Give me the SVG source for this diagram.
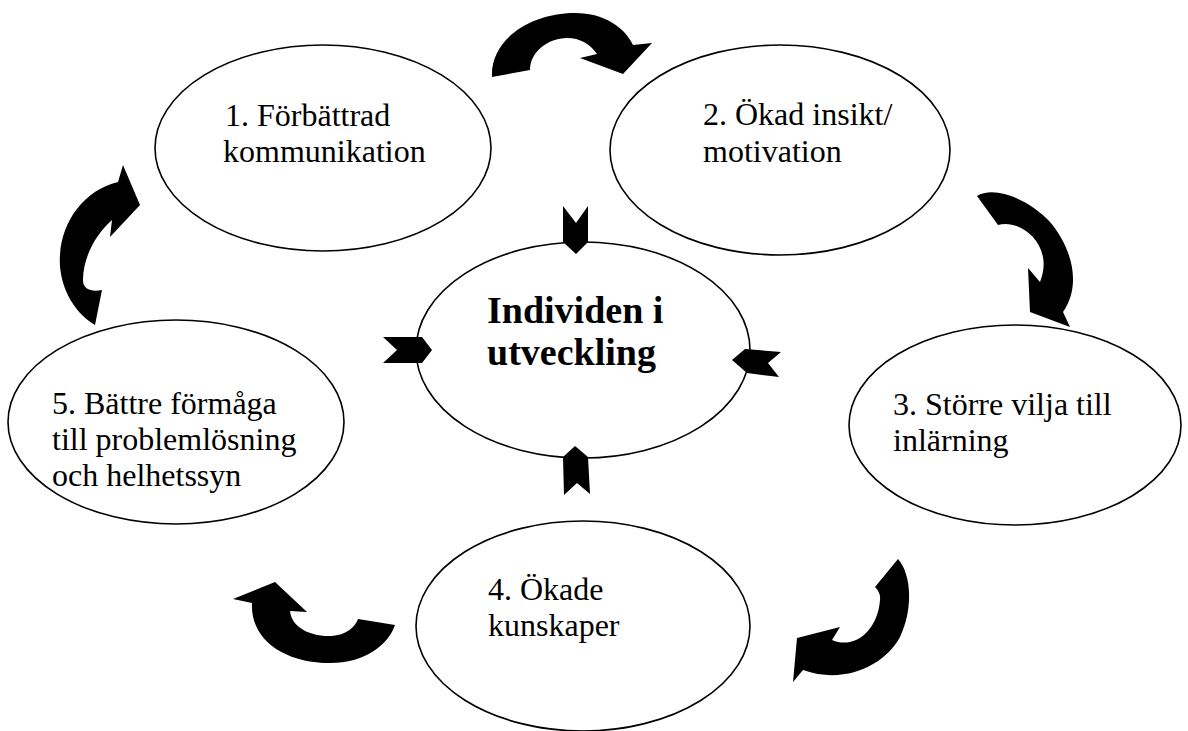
<svg xmlns="http://www.w3.org/2000/svg" width="1188" height="731" viewBox="0 0 1188 731">
<style>
.node{fill:#fff;stroke:#000;stroke-width:1.6}
.t{font-family:"Liberation Serif","Times New Roman",serif;font-size:32px;fill:#000}
.b{font-family:"Liberation Serif","Times New Roman",serif;font-size:38px;font-weight:bold;fill:#000}
.ar{fill:#000;stroke:none}
</style>
<rect width="1188" height="731" fill="#fff"/>
<g id="n1"><ellipse class="node" cx="323" cy="148" rx="168" ry="103"/><text class="t" x="225" y="126">1. Förbättrad</text><text class="t" x="223" y="162">kommunikation</text></g>
<g id="n2"><ellipse class="node" cx="780" cy="150" rx="170" ry="105"/><text class="t" x="703" y="125">2. Ökad insikt/</text><text class="t" x="703" y="162">motivation</text></g>
<g id="n3"><ellipse class="node" cx="1015" cy="425" rx="166" ry="100"/><text class="t" x="893" y="415">3. Större vilja till</text><text class="t" x="893" y="451">inlärning</text></g>
<g id="n4"><ellipse class="node" cx="583" cy="626" rx="167" ry="105"/><text class="t" x="488" y="600">4. Ökade</text><text class="t" x="488" y="636">kunskaper</text></g>
<g id="n5"><ellipse class="node" cx="176" cy="422" rx="168" ry="102"/><text class="t" x="52" y="414">5. Bättre förmåga</text><text class="t" x="52" y="450">till problemlösning</text><text class="t" x="52" y="486">och helhetssyn</text></g>
<g id="center"><ellipse class="node" cx="583" cy="350" rx="167" ry="108"/><text class="b" x="487" y="323">Individen i</text><text class="b" x="487" y="365">utveckling</text></g>
<g id="connectors">
<path class="ar" d="M492,77 C490,40 530,13 575,13 C605,13 625,28 633,45 L652,43 L623,74 L580,58 L597,54 C590,44 580,38 567,38 C548,38 530,52 530,70 Z"/>
<path class="ar" d="M977,196 C995,185 1030,200 1050,222 C1072,248 1082,285 1063,312 L1070,327 L1030,312 L1028,268 L1040,282 C1055,245 1020,218 998,225 Z"/>
<path class="ar" d="M898,559 C912,575 913,610 900,637 C885,665 845,685 803,670 L793,682 L797,638 L840,627 L832,640 C855,650 878,630 880,600 C881,595 878,590 875,587 Z"/>
<path class="ar" d="M233,599 L275,582 L307,612 L290,611 C292,630 315,637 332,636 C345,635 355,628 358,619 L395,625 C388,645 365,663 330,663 C285,663 250,640 252,603 Z"/>
<path class="ar" d="M123,165 L140,205 L110,237 L112,220 C95,235 83,258 83,280 C83,290 92,292 102,290 L95,325 C70,310 58,280 60,255 C62,220 85,190 118,182 Z"/>
<polygon class="ar" points="563,206 576,223 588,206 588,242 576,254 563,242"/>
<polygon class="ar" points="383,337 422,337 432,350 422,363 383,363 397,350"/>
<polygon class="ar" points="732,360 745,349 781,352 768,363 779,377 747,373"/>
<polygon class="ar" points="575,446 563,457 564,495 577,483 590,494 588,457"/>
</g>
</svg>
